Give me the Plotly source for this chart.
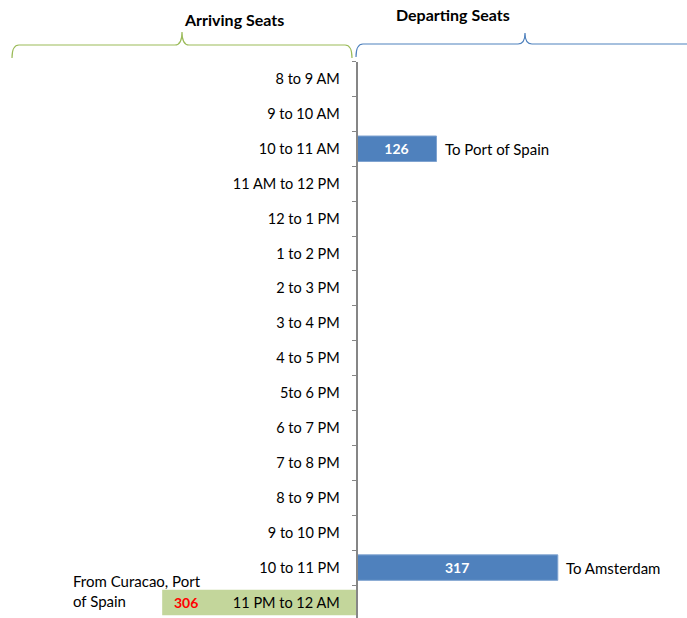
import plotly.graph_objects as go

# Hourly time slots, top to bottom
slots = ["8 to 9 AM", "9 to 10 AM", "10 to 11 AM", "11 AM to 12 PM", "12 to 1 PM",
         "1 to 2 PM", "2 to 3 PM", "3 to 4 PM", "4 to 5 PM", "5to 6 PM", "6 to 7 PM",
         "7 to 8 PM", "8 to 9 PM", "9 to 10 PM", "10 to 11 PM", "11 PM to 12 AM"]

# Departing seats per slot
dep_slots = ["10 to 11 AM", "10 to 11 PM"]
dep_seats = [126, 317]
dep_dest = ["To Port of Spain", "To Amsterdam"]

# Arriving seats per slot
arr_slots = ["11 PM to 12 AM"]
arr_seats = [306]
arr_origin = ["From Curacao, Port<br>of Spain"]

W, H = 687, 618
FONT = "Lato"
BLUE = "#4F81BD"
GREEN = "#C3D69B"
AXIS = "#868686"

fig = go.Figure()

fig.add_trace(go.Bar(
    y=dep_slots, x=dep_seats, orientation="h",
    marker=dict(color=BLUE, line=dict(color="#7FA3D0", width=1)),
    text=dep_seats, texttemplate="<b>%{text}</b>",
    textposition="inside", insidetextanchor="middle",
    textfont=dict(color="white", size=14, family=FONT),
    showlegend=False, hoverinfo="skip",
))

fig.add_trace(go.Bar(
    y=arr_slots, x=[-v for v in arr_seats], orientation="h",
    marker=dict(color=GREEN, line=dict(width=0)),
    showlegend=False, hoverinfo="skip",
))

annotations = []
# destination names beside departing bars
for s, v, d in zip(dep_slots, dep_seats, dep_dest):
    annotations.append(dict(x=v, y=s, xref="x", yref="y", text=d, showarrow=False,
                            xanchor="left", xshift=6,
                            font=dict(size=15, color="black", family=FONT)))
# arriving values inside the left end of the green bars, plus origin names
for s, v, o in zip(arr_slots, arr_seats, arr_origin):
    annotations.append(dict(x=-v, y=s, xref="x", yref="y", text=f"<b>{v}</b>",
                            showarrow=False, xanchor="left", xshift=10,
                            font=dict(size=14, color="red", family=FONT)))
    annotations.append(dict(x=71 / W, y=s, xref="paper", yref="y", text=o,
                            showarrow=False, xanchor="left", align="left", yshift=12,
                            font=dict(size=15, color="black", family=FONT)))

# section titles
annotations.append(dict(x=182 / W, y=1 - 19 / H, xref="paper", yref="paper",
                        yanchor="middle",
                        text="<b>Arriving Seats</b>", showarrow=False,
                        font=dict(size=16, color="black", family=FONT)))
annotations.append(dict(x=512 / W, y=1 - 15 / H, xref="paper", yref="paper",
                        yanchor="middle",
                        text="<b>Departing Seats</b>", showarrow=False,
                        font=dict(size=16, color="black", family=FONT)))


def brace(x0, x1, xm, y_end, y_line, y_peak, r=7):
    px = lambda v: v / W
    py = lambda v: 1 - v / H
    return (f"M {px(x0)},{py(y_end)} Q {px(x0)},{py(y_line)} {px(x0 + r)},{py(y_line)} "
            f"L {px(xm - r)},{py(y_line)} Q {px(xm)},{py(y_line)} {px(xm)},{py(y_peak)} "
            f"Q {px(xm)},{py(y_line)} {px(xm + r)},{py(y_line)} "
            f"L {px(x1 - r)},{py(y_line)} Q {px(x1)},{py(y_line)} {px(x1)},{py(y_end)}")


shapes = [
    dict(type="path", xref="paper", yref="paper", path=brace(12, 352, 182, 58, 45, 32),
         line=dict(color="#9BBB59", width=1.2)),
    dict(type="path", xref="paper", yref="paper", path=brace(356, 694, 525, 57, 44, 33),
         line=dict(color="#4F81BD", width=1.2)),
]

zero_px = 356.5
px_per_unit = 0.635
fig.update_layout(
    width=W, height=H,
    margin=dict(l=0, r=0, t=0, b=0),
    paper_bgcolor="white", plot_bgcolor="white",
    barmode="overlay", bargap=0.27,
    xaxis=dict(range=[-zero_px / px_per_unit, (W - zero_px) / px_per_unit],
               visible=False, domain=[0, 1]),
    yaxis=dict(type="category", categoryorder="array", categoryarray=slots,
               range=[15.444, -0.5], domain=[0, 1 - 61.5 / H],
               anchor="free", position=zero_px / W,
               showline=True, linecolor=AXIS, linewidth=1.8,
               ticks="outside", ticklen=4, tickcolor=AXIS, tickwidth=1.2,
               tickson="boundaries", showgrid=False, zeroline=False,
               ticklabelstandoff=13,
               tickfont=dict(size=14.5, color="black", family=FONT)),
    annotations=annotations,
    shapes=shapes,
)

fig.write_html("out.html")
